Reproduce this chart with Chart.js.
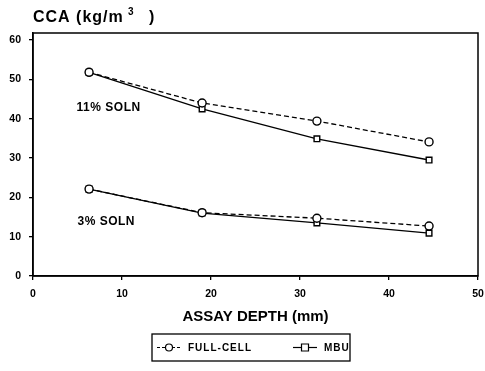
<!DOCTYPE html>
<html>
<head>
<meta charset="utf-8">
<script src="https://cdn.jsdelivr.net/npm/chart.js@4"></script>
<style>
  html, body { margin: 0; padding: 0; background: #fff; }
  #wrap { width: 485px; height: 371px; }
</style>
</head>
<body>
<div id="wrap"><canvas id="cca"></canvas></div>
<script>
// assay depth (mm)
var depths = [6.3, 19, 31.9, 44.5];
// CCA retention (kg/m3)
var fullCell11 = [51.8, 44.0, 39.4, 34.1];
var mbu11 = [51.8, 42.5, 34.9, 29.5];
var fullCell3 = [22.1, 16.1, 14.7, 12.7];
var mbu3 = [22.1, 16.0, 13.5, 10.9];
var xTicks = [0, 10, 20, 30, 40, 50];
var yTicks = [0, 10, 20, 30, 40, 50, 60];
var seriesNames = ['FULL-CELL', 'MBU'];
var notes = [{ text: '11% SOLN', x: 4.9, y: 42.7 }, { text: '3% SOLN', x: 5.0, y: 13.7 }];

var FONT = '"Liberation Sans", Arial, sans-serif';

function pts(ys) {
    return depths.map(function(d, i) { return { x: d, y: ys[i] }; });
}

function series(ys, dashed, shape) {
    return {
        data: pts(ys),
        borderColor: '#000',
        backgroundColor: '#fff',
        borderWidth: 1.3,
        borderDash: dashed ? [5, 3] : [],
        pointStyle: shape,
        pointRadius: 4,
        pointBorderWidth: 1.4,
        pointBackgroundColor: '#fff',
        pointBorderColor: '#000',
        tension: 0
    };
}

// frame, notes, title and legend box
var extras = {
    id: 'extras',
    afterDraw: function(chart) {
        var ctx = chart.ctx;
        var a = chart.chartArea;
        var xs = chart.scales.x, ys = chart.scales.y;
        ctx.save();
        ctx.strokeStyle = '#000';
        ctx.lineWidth = 1.5;
        ctx.strokeRect(a.left, a.top, a.right - a.left, a.bottom - a.top);

        ctx.fillStyle = '#000';
        ctx.textBaseline = 'middle';
        ctx.textAlign = 'left';
        ctx.font = 'bold 12px ' + FONT;
        ctx.letterSpacing = '0.5px';
        notes.forEach(function(n) {
            ctx.fillText(n.text, xs.getPixelForValue(n.x), ys.getPixelForValue(n.y));
        });

        // y axis title with superscript
        ctx.font = 'bold 16px ' + FONT;
        ctx.letterSpacing = '1px';
        ctx.fillText('CCA (kg/m', 33, 18);
        ctx.font = 'bold 10px ' + FONT;
        ctx.fillText('3', 128, 12);
        ctx.font = 'bold 16px ' + FONT;
        ctx.fillText(')', 149, 18);

        // legend
        var lx = 152, ly = 334, lw = 198, lh = 27;
        ctx.lineWidth = 1.3;
        ctx.strokeRect(lx, ly, lw, lh);
        var cy = ly + lh / 2;
        var items = [
            { name: seriesNames[0], x: 157, dash: [3, 2], shape: 'circle' },
            { name: seriesNames[1], x: 293, dash: [], shape: 'rect' }
        ];
        ctx.font = 'bold 10px ' + FONT;
        ctx.letterSpacing = '1px';
        items.forEach(function(it) {
            ctx.setLineDash(it.dash);
            ctx.lineWidth = 1.2;
            ctx.beginPath();
            ctx.moveTo(it.x, cy);
            ctx.lineTo(it.x + 24, cy);
            ctx.stroke();
            ctx.setLineDash([]);
            ctx.fillStyle = '#fff';
            ctx.beginPath();
            if (it.shape === 'circle') {
                ctx.arc(it.x + 12, cy, 3.5, 0, Math.PI * 2);
            } else {
                ctx.rect(it.x + 8.5, cy - 3.5, 7, 7);
            }
            ctx.fill();
            ctx.stroke();
            ctx.fillStyle = '#000';
            ctx.fillText(it.name, it.x + 31, cy + 1);
        });
        ctx.restore();
    }
};

new Chart(document.getElementById('cca').getContext('2d'), {
    type: 'line',
    data: {
        datasets: [
            series(fullCell11, true, 'circle'),
            series(mbu11, false, 'rect'),
            series(fullCell3, true, 'circle'),
            series(mbu3, false, 'rect')
        ]
    },
    options: {
        responsive: true,
        maintainAspectRatio: false,
        animation: false,
        layout: { padding: { left: 0, right: 7, top: 33, bottom: 45 } },
        plugins: { legend: { display: false }, tooltip: { enabled: false } },
        scales: {
            x: {
                type: 'linear',
                min: 0,
                max: 50,
                afterBuildTicks: function(s) { s.ticks = xTicks.map(function(v) { return { value: v }; }); },
                afterFit: function(s) { s.height = 50; s.paddingLeft = 0; s.paddingRight = 0; },
                grid: { drawOnChartArea: false, drawTicks: true, tickLength: 4, color: '#000', lineWidth: 1.3 },
                border: { display: true, color: '#000', width: 1.5 },
                ticks: { color: '#000', font: { family: FONT, size: 10.5, weight: 'bold' }, padding: 8, maxRotation: 0 },
                title: { display: true, text: 'ASSAY DEPTH (mm)', color: '#000', font: { family: FONT, size: 15, weight: 'bold' }, padding: { top: 3, bottom: 0 } }
            },
            y: {
                min: 0,
                max: 61.8,
                afterBuildTicks: function(s) { s.ticks = yTicks.map(function(v) { return { value: v }; }); },
                afterFit: function(s) { s.width = 33; s.paddingTop = 0; s.paddingBottom = 0; },
                grid: { drawOnChartArea: false, drawTicks: true, tickLength: 4, color: '#000', lineWidth: 1.3 },
                border: { display: true, color: '#000', width: 1.5 },
                ticks: { color: '#000', font: { family: FONT, size: 10.5, weight: 'bold' }, padding: 8 }
            }
        }
    },
    plugins: [extras]
});
</script>
</body>
</html>
